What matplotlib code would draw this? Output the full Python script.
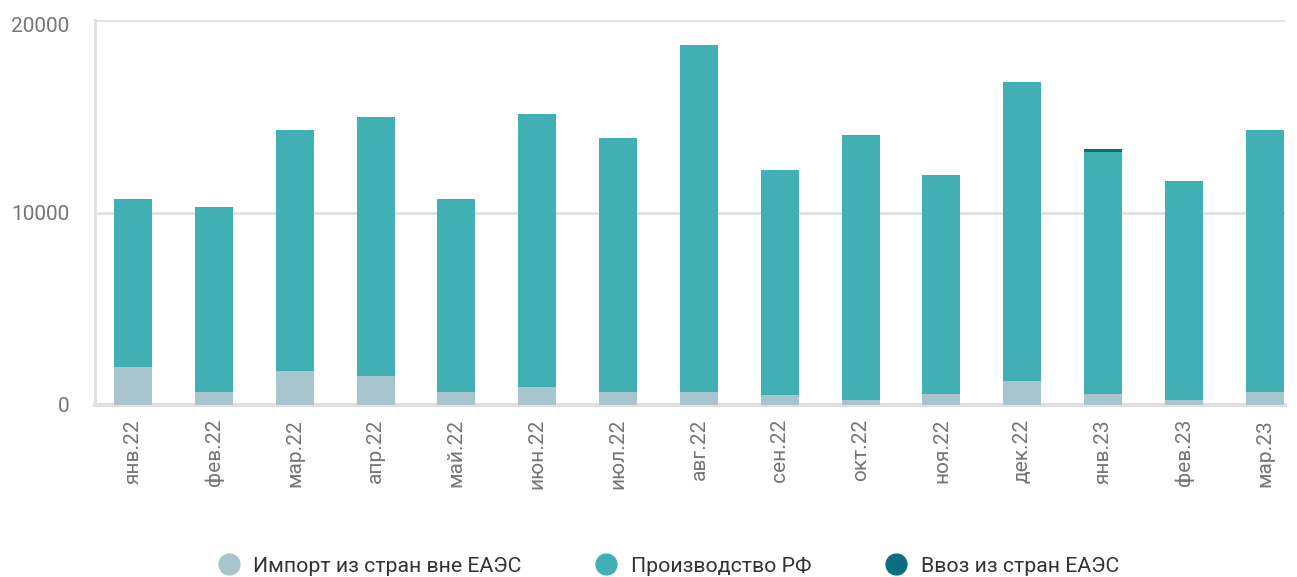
import matplotlib
matplotlib.use("Agg")
import matplotlib.pyplot as plt
import matplotlib.transforms as mtransforms
import numpy as np
from matplotlib.lines import Line2D

months = ["янв.22", "фев.22", "мар.22", "апр.22", "май.22", "июн.22", "июл.22",
          "авг.22", "сен.22", "окт.22", "ноя.22", "дек.22", "янв.23", "фев.23", "мар.23"]
import_non_eaeu = [1950, 690, 1790, 1530, 690, 950, 690, 690, 530, 265, 580, 1260, 580, 265, 690]
production_rf = [8750, 9600, 12500, 13430, 10010, 14170, 13180, 18010, 11680, 13765, 11370, 15520, 12560, 11375, 13600]
eaeu_import = [0, 0, 0, 0, 0, 0, 0, 0, 0, 0, 0, 0, 160, 0, 0]

legend_labels = ["Импорт из стран вне ЕАЭС", "Производство РФ", "Ввоз из стран ЕАЭС"]
colors = ["#A8C4CC", "#40B0B4", "#0B6E80"]

plt.rcParams['font.family'] = ['Roboto', 'DejaVu Sans']

fig = plt.figure(figsize=(12.97, 5.77), dpi=100)
ax = fig.add_axes([95/1297, 1 - 405/577, (1285 - 95)/1297, (405 - 20)/577])

x = np.arange(len(months))
w = 0.47
imp = np.array(import_non_eaeu)
prod = np.array(production_rf)
ea = np.array(eaeu_import)
ax.bar(x, imp, w, color=colors[0], label=legend_labels[0], zorder=3)
ax.bar(x, prod, w, bottom=imp, color=colors[1], label=legend_labels[1], zorder=3)
ax.bar(x, ea, w, bottom=imp + prod, color=colors[2], label=legend_labels[2], zorder=3)

ax.set_ylim(0, 20000)
ax.set_xlim(-0.47, 14.25)
ax.set_yticks([0, 10000, 20000])
ax.set_yticklabels(["0", "10000", "20000"])
ax.set_xticks(x)
ax.set_xticklabels(months, rotation=90)
ax.tick_params(axis='both', length=0, labelsize=15, colors="#757575")
ax.tick_params(axis='x', pad=10)
ax.tick_params(axis='y', pad=18.5)

# top label sits slightly below its gridline in the reference
top_lbl = ax.get_yticklabels()[-1]
top_lbl.set_transform(top_lbl.get_transform() +
                      mtransforms.ScaledTranslation(0, -4/100, fig.dpi_scale_trans))

ax.grid(axis='y', color="#E0E0E0", linewidth=2, zorder=0)
for s in ["top", "right"]:
    ax.spines[s].set_visible(False)
ax.spines["left"].set_color("#E0E0E0")
ax.spines["left"].set_linewidth(2)
ax.spines["bottom"].set_color("#E0E0E0")
ax.spines["bottom"].set_linewidth(3)

handles = [Line2D([0], [0], marker='o', linestyle='', markersize=15,
                  markerfacecolor=c, markeredgecolor=c) for c in colors]
fig.legend(handles, legend_labels, loc="center", bbox_to_anchor=(0.5154, 1 - 566/577),
           ncol=3, frameon=False, fontsize=15.3, labelcolor="#333333",
           columnspacing=3.5, handletextpad=0.65, handlelength=1.0)

fig.savefig("out.png", dpi=100)
